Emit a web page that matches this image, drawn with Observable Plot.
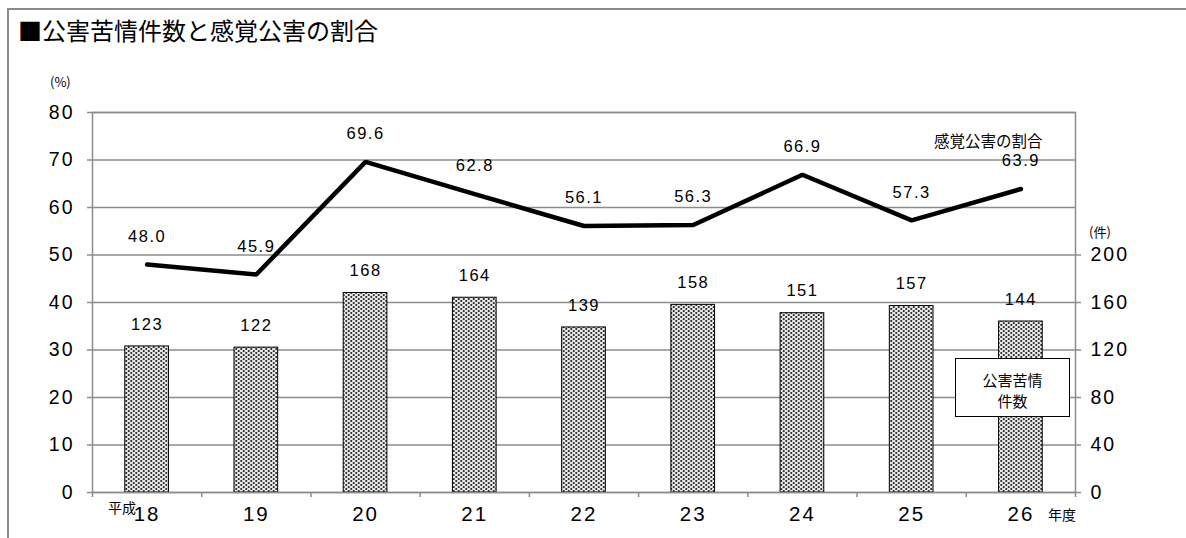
<!DOCTYPE html>
<html>
<head>
<meta charset="utf-8">
<script src="https://cdn.jsdelivr.net/npm/d3@7"></script>
<script src="https://cdn.jsdelivr.net/npm/@observablehq/plot@0.6"></script>
<style>
  html, body { margin: 0; padding: 0; background: #fff; }
  #wrap { position: relative; width: 1186px; height: 538px; overflow: hidden; background: #fff;
          font-family: "Noto Sans CJK JP", "Noto Sans", sans-serif; }
  #border { position: absolute; left: 7px; top: 8px; right: -4px; bottom: -4px;
            border-left: 2px solid #8a8a8a; border-top: 2px solid #8a8a8a; }
  #title { position: absolute; left: 18px; top: 15px; font-size: 24px; line-height: 30px; color: #000; white-space: nowrap; }
  #chart { position: absolute; left: 0; top: 0; }
  .ov { position: absolute; font-size: 13px; color: #000; white-space: nowrap; }
  #legend { position: absolute; left: 955px; top: 358px; width: 113px; height: 57px;
            border: 1.5px solid #000; background: #fff; text-align: center;
            font-size: 15px; line-height: 21px; padding-top: 0; box-sizing: content-box; }
  #legend div:first-child { margin-top: 10px; }
  .num text { letter-spacing: 1.5px; }
  .tnum text { letter-spacing: 2px; }
</style>
</head>
<body>
<div id="wrap">
  <div id="border"></div>
  <div id="title">■公害苦情件数と感覚公害の割合</div>
  <div id="chart"></div>
  <div class="ov" style="left:50px;top:72px;">(%)</div>
  <div class="ov" style="left:1089px;top:222px;">(件)</div>
  <div id="legend"><div>公害苦情</div><div>件数</div></div>
</div>
<script>
// ---- data ----
const years = ["18", "19", "20", "21", "22", "23", "24", "25", "26"];
const counts = [123, 122, 168, 164, 139, 158, 151, 157, 144];          // 公害苦情件数 (件)
const ratios = [48.0, 45.9, 69.6, 62.8, 56.1, 56.3, 66.9, 57.3, 63.9]; // 感覚公害の割合 (%)
const leftTicks = [0, 10, 20, 30, 40, 50, 60, 70, 80];
const rightTicks = [0, 40, 80, 120, 160, 200];
const countsPerPercent = 4; // right axis 200件 aligns with left 50%

const data = years.map((y, i) => ({ i, year: y, count: counts[i], ratio: ratios[i] }));
const boundaries = d3.range(-0.5, years.length, 1);

const gray = "#8c8c8c";
const numFont = "'Liberation Sans', Arial, sans-serif";
const cjkFont = "'Noto Sans CJK JP', sans-serif";

const chart = Plot.plot({
  width: 1186,
  height: 538,
  marginTop: 112,
  marginBottom: 46,
  marginLeft: 92,
  marginRight: 111,
  x: { domain: [-0.5, years.length - 0.5] },
  y: { domain: [0, 80] },
  style: { fontFamily: numFont, color: "#000", background: "transparent", overflow: "visible" },
  marks: [
    Plot.gridY(leftTicks, { stroke: gray, strokeOpacity: 1, strokeWidth: 1.5 }),
    Plot.rectY(data, {
      x1: d => d.i - 0.2, x2: d => d.i + 0.2, y: d => d.count / countsPerPercent,
      fill: "#ccc", stroke: "#000", strokeWidth: 1, className: "bars"
    }),
    Plot.frame({ stroke: gray, strokeWidth: 1.5 }),
    Plot.axisY(leftTicks, {
      anchor: "left", tickSize: 5, tickPadding: 13, fontSize: 19.5,
      stroke: gray, strokeWidth: 1.5, label: null, className: "tnum"
    }),
    Plot.axisY(rightTicks.map(d => d / countsPerPercent), {
      anchor: "right", tickSize: 5, tickPadding: 10, fontSize: 19.5,
      tickFormat: d => String(d * countsPerPercent),
      stroke: gray, strokeWidth: 1.5, label: null, className: "tnum"
    }),
    Plot.axisX(boundaries, {
      anchor: "bottom", tickSize: 5, tickFormat: () => "", stroke: gray, strokeWidth: 1.5, label: null
    }),
    Plot.axisX(data.map(d => d.i), {
      anchor: "bottom", tickSize: 0, tickPadding: 14, fontSize: 20.5,
      tickFormat: i => years[i], label: null, className: "tnum"
    }),
    Plot.text(data, {
      x: "i", y: d => d.count / countsPerPercent, text: d => String(d.count),
      dy: -22, fontSize: 16.5, className: "num"
    }),
    Plot.line(data, { x: "i", y: "ratio", stroke: "#000", strokeWidth: 4.5, strokeLinejoin: "miter" }),
    Plot.text(data, {
      x: "i", y: "ratio", text: d => d.ratio.toFixed(1),
      dy: -28, fontSize: 16.5, className: "num"
    }),
    Plot.text(["感覚公害の割合"], {
      frameAnchor: "top-right", text: d => d, textAnchor: "end",
      dx: -33, dy: 23, fontSize: 15.5, fontFamily: cjkFont
    }),
    Plot.text([0], {
      x: d => d, frameAnchor: "bottom", text: () => "平成", textAnchor: "end",
      dx: -11, dy: 20, fontSize: 14, fontFamily: cjkFont
    }),
    Plot.text([years.length - 1], {
      x: d => d, frameAnchor: "bottom", text: () => "年度", textAnchor: "start",
      dx: 27, dy: 27, fontSize: 14, fontFamily: cjkFont
    })
  ]
});

// dotted fill pattern for the bars
const svg = d3.select(chart);
const defs = svg.insert("defs", ":first-child");
const pat = defs.append("pattern").attr("id", "dots")
  .attr("width", 5).attr("height", 4).attr("patternUnits", "userSpaceOnUse");
pat.append("rect").attr("width", 5).attr("height", 4).attr("fill", "#e8e8e8");
pat.append("circle").attr("cx", 1.25).attr("cy", 1).attr("r", 1.05).attr("fill", "#2a2a2a");
pat.append("circle").attr("cx", 3.75).attr("cy", 3).attr("r", 1.05).attr("fill", "#2a2a2a");
svg.selectAll(".bars rect").attr("fill", "url(#dots)");

document.getElementById("chart").appendChild(chart);
</script>
</body>
</html>
